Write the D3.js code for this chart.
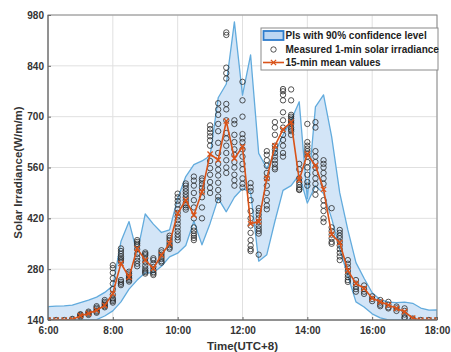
<!DOCTYPE html>
<html>
<head>
<meta charset="utf-8">
<script src="https://cdn.jsdelivr.net/npm/d3@7"></script>
<style>
	body { margin: 0; background: #fff; }
	svg { display: block; font-family: "Liberation Sans", Arial, sans-serif; }
</style>
</head>
<body>
<div id="chart"></div>
<script>
// 15-min time stamps
const timeLabels = [
	"6:00", "6:15", "6:30", "6:45", "7:00", "7:15", "7:30", "7:45",
	"8:00", "8:15", "8:30", "8:45", "9:00", "9:15", "9:30", "9:45",
	"10:00", "10:15", "10:30", "10:45", "11:00", "11:15", "11:30", "11:45",
	"12:00", "12:15", "12:30", "12:45", "13:00", "13:15", "13:30", "13:45",
	"14:00", "14:15", "14:30", "14:45", "15:00", "15:15", "15:30", "15:45",
	"16:00", "16:15", "16:30", "16:45", "17:00", "17:15", "17:30", "17:45", "18:00"
];

// upper / lower bound of the 90% PIs
const upperBound = [
	177, 178, 179, 181, 188, 195, 203, 216,
	234, 356, 411, 324, 432, 404, 381, 388,
	475, 535, 568, 578, 592, 752, 790, 961,
	759, 870, 599, 558, 600, 650, 690, 741,
	474, 727, 760, 645, 490, 388, 298, 255,
	215, 196, 189, 188, 189, 186, 173, 167, 168
];
const lowerBound = [
	140, 140, 140, 140, 140, 140, 141, 151,
	165, 190, 225, 250, 270, 270, 288, 314,
	324, 345, 412, 347, 406, 475, 438, 478,
	502, 492, 302, 320, 412, 497, 510, 540,
	462, 510, 488, 420, 335, 262, 190, 176,
	157, 146, 140, 140, 140, 140, 140, 140, 140
];

// 15-min mean values
const meanValues = [
	140, 140, 140, 141, 152, 158, 167, 180,
	213, 296, 258, 337, 305, 282, 319, 351,
	434, 470, 429, 493, 597, 581, 688, 585,
	617, 405, 411, 530, 620, 665, 685, 526,
	597, 565, 500, 376, 353, 276, 241, 227,
	200, 190, 181, 172, 163, 145, 140, 140, 140
];

// measured 1-min irradiance, grouped by the 15-min stamp they are plotted at
const measured = [
	[140], [140], [140], [141, 143],
	[148, 151, 154, 156], [154, 157, 160, 163], [160, 163, 166, 170, 174, 178], [175, 178, 182, 186, 190, 195],
	[188, 192, 196, 200, 210, 225, 240, 255, 270, 283, 291],
	[236, 240, 245, 250, 300, 305, 310, 315, 322, 330, 337],
	[246, 250, 254, 258, 263, 268, 273],
	[288, 295, 303, 312, 322, 335, 345, 350, 355, 360],
	[268, 272, 276, 282, 290, 300, 310, 318, 322, 326],
	[264, 268, 272, 278, 286, 295, 305, 310],
	[298, 302, 308, 314, 320, 326, 332],
	[336, 340, 346, 352, 360, 366, 372],
	[360, 368, 376, 385, 395, 405, 415, 425, 435, 445, 458, 468, 478, 488],
	[444, 450, 456, 462, 470, 478, 486, 494, 502, 510, 516],
	[360, 366, 372, 378, 386, 395, 420, 450, 470, 490, 510, 524, 535],
	[420, 450, 478, 494, 504, 514, 524, 530],
	[490, 504, 520, 540, 558, 578, 620, 635, 646, 656, 666, 676],
	[470, 480, 498, 518, 538, 554, 570, 600, 628, 660, 680, 705, 720, 737],
	[545, 560, 580, 600, 620, 640, 655, 690, 720, 735, 805, 820, 835, 925, 932],
	[510, 525, 540, 560, 575, 595, 610, 630, 650, 680, 690],
	[505, 515, 530, 555, 570, 590, 610, 630, 640, 652, 700, 745, 796],
	[330, 335, 345, 360, 380, 400, 420, 440, 470, 495, 505, 517],
	[320, 378, 385, 392, 400, 410, 420, 430, 440, 448],
	[445, 455, 470, 490, 510, 530, 545, 565, 580, 595, 605],
	[555, 560, 570, 580, 590, 600, 610, 620, 650, 670, 685],
	[590, 600, 620, 636, 650, 670, 690, 712, 745, 760, 770, 776],
	[650, 660, 665, 670, 680, 685, 690, 695, 700, 705, 745, 775],
	[498, 500, 505, 512, 520, 530, 555, 570],
	[510, 520, 540, 560, 575, 590, 598, 605, 612, 620, 630, 680],
	[485, 500, 515, 530, 545, 560, 575, 590, 605, 670, 685],
	[410, 420, 440, 455, 470, 515, 530, 545, 560, 570, 580],
	[350, 355, 365, 375, 385, 395, 448],
	[305, 315, 325, 335, 345, 355, 365, 372, 380, 388],
	[245, 250, 258, 265, 275, 285, 295, 305],
	[218, 225, 232, 240, 250],
	[212, 218, 225, 235],
	[192, 198, 205],
	[178, 182, 188, 195],
	[172, 175, 182, 190],
	[165, 172, 177],
	[145, 148, 155, 165, 172],
	[141, 144], [140], [140], [140]
];

const xTicks = ["6:00", "8:00", "10:00", "12:00", "14:00", "16:00", "18:00"];
const yTicks = [140, 280, 420, 560, 700, 840, 980];

const legendLabels = [
	"PIs with 90% confidence level",
	"Measured 1-min solar irradiance",
	"15-min mean values"
];

// ---- layout ----
const width = 451, height = 352;
const margin = { top: 15, right: 14, bottom: 32, left: 48 };
const innerW = width - margin.left - margin.right;
const innerH = height - margin.top - margin.bottom;

const toHours = s => { const [h, m] = s.split(":"); return +h + (+m) / 60; };
const rows = timeLabels.map((t, i) => ({
	t: toHours(t), hi: upperBound[i], lo: lowerBound[i], mean: meanValues[i], pts: measured[i]
}));

const x = d3.scaleLinear().domain([6, 18]).range([0, innerW]);
const y = d3.scaleLinear().domain([140, 980]).range([innerH, 0]);

const svg = d3.select("#chart").append("svg")
	.attr("width", width)
	.attr("height", height);

svg.append("defs").append("clipPath").attr("id", "plot-clip")
	.append("rect").attr("width", innerW).attr("height", innerH);

const g = svg.append("g").attr("transform", `translate(${margin.left},${margin.top})`);

// grid
g.append("g").selectAll("line").data(xTicks.map(toHours)).join("line")
	.attr("x1", d => x(d)).attr("x2", d => x(d))
	.attr("y1", 0).attr("y2", innerH)
	.attr("stroke", "#e0e0e0").attr("stroke-width", 1);
g.append("g").selectAll("line").data(yTicks).join("line")
	.attr("x1", 0).attr("x2", innerW)
	.attr("y1", d => y(d)).attr("y2", d => y(d))
	.attr("stroke", "#e0e0e0").attr("stroke-width", 1);

const plot = g.append("g").attr("clip-path", "url(#plot-clip)");

// PI band
const area = d3.area().x(d => x(d.t)).y0(d => y(d.lo)).y1(d => y(d.hi));
plot.append("path").datum(rows)
	.attr("d", area)
	.attr("fill", "#d3e5f7")
	.attr("stroke", "#62abdd")
	.attr("stroke-width", 1.3)
	.attr("stroke-linejoin", "round");

// measured points
const pts = rows.flatMap(d => d.pts.map(v => ({ t: d.t, v })));
plot.append("g").selectAll("circle").data(pts).join("circle")
	.attr("cx", d => x(d.t))
	.attr("cy", d => y(d.v))
	.attr("r", 2.7)
	.attr("fill", "none")
	.attr("stroke", "#2a2a2a")
	.attr("stroke-width", 0.8);

// mean line with x markers
const orange = "#d95319";
plot.append("path").datum(rows)
	.attr("d", d3.line().x(d => x(d.t)).y(d => y(d.mean)))
	.attr("fill", "none")
	.attr("stroke", orange)
	.attr("stroke-width", 1.6);

const xMark = s => `M${-s},${-s}L${s},${s}M${-s},${s}L${s},${-s}`;
plot.append("g").selectAll("path").data(rows).join("path")
	.attr("transform", d => `translate(${x(d.t)},${y(d.mean)})`)
	.attr("d", xMark(2.6))
	.attr("stroke", orange)
	.attr("stroke-width", 1.3);

// box + ticks
g.append("rect").attr("width", innerW).attr("height", innerH)
	.attr("fill", "none").attr("stroke", "#8a8a8a").attr("stroke-width", 1);
g.append("line").attr("x1", 0).attr("x2", 0).attr("y1", 0).attr("y2", innerH)
	.attr("stroke", "#666");
g.append("line").attr("x1", 0).attr("x2", innerW).attr("y1", innerH).attr("y2", innerH)
	.attr("stroke", "#666");

const xAxis = g.append("g").attr("transform", `translate(0,${innerH})`)
	.call(d3.axisBottom(x).tickValues(xTicks.map(toHours))
		.tickFormat((d, i) => xTicks[i]).tickSizeInner(-3).tickSizeOuter(0).tickPadding(7));
const yAxis = g.append("g")
	.call(d3.axisLeft(y).tickValues(yTicks).tickSizeInner(-3).tickSizeOuter(0).tickPadding(4));

[xAxis, yAxis].forEach(a => {
	a.select(".domain").remove();
	a.selectAll(".tick line").attr("stroke", "#666");
	a.selectAll(".tick text")
		.attr("fill", "#333")
		.style("font-size", "10px")
		.style("font-weight", "bold")
		.style("font-family", "'Liberation Sans', Arial, sans-serif");
});

// axis titles
svg.append("text")
	.attr("x", margin.left + innerW / 2)
	.attr("y", 350)
	.attr("text-anchor", "middle")
	.attr("fill", "#333")
	.style("font-size", "11.5px").style("font-weight", "bold")
	.text("Time(UTC+8)");
svg.append("text")
	.attr("transform", `translate(22,${margin.top + innerH / 2 + 5}) rotate(-90)`)
	.attr("text-anchor", "middle")
	.attr("fill", "#333")
	.style("font-size", "11.5px").style("font-weight", "bold")
	.text("Solar Irradiance(W/m/m)");

// legend
const lg = svg.append("g").attr("transform", "translate(261,28)");
lg.append("rect").attr("width", 177).attr("height", 42)
	.attr("fill", "#fff").attr("stroke", "#8a8a8a").attr("stroke-width", 1);
lg.append("rect").attr("x", 2.5).attr("y", 3).attr("width", 20).attr("height", 9)
	.attr("fill", "#bcd6f2").attr("stroke", "#2d7ccc").attr("stroke-width", 1.8);
lg.append("circle").attr("cx", 12.5).attr("cy", 21.5).attr("r", 2.7)
	.attr("fill", "none").attr("stroke", "#2a2a2a").attr("stroke-width", 0.8);
lg.append("line").attr("x1", 2).attr("x2", 23).attr("y1", 34.5).attr("y2", 34.5)
	.attr("stroke", orange).attr("stroke-width", 1.6);
lg.append("path").attr("transform", "translate(12.5,34.5)").attr("d", xMark(2.6))
	.attr("stroke", orange).attr("stroke-width", 1.3);
lg.selectAll("text").data(legendLabels).join("text")
	.attr("x", 24.5)
	.attr("y", (d, i) => 11.3 + i * 13.5)
	.attr("fill", "#222")
	.style("font-size", "10px").style("font-weight", "bold")
	.text(d => d);
</script>
</body>
</html>
